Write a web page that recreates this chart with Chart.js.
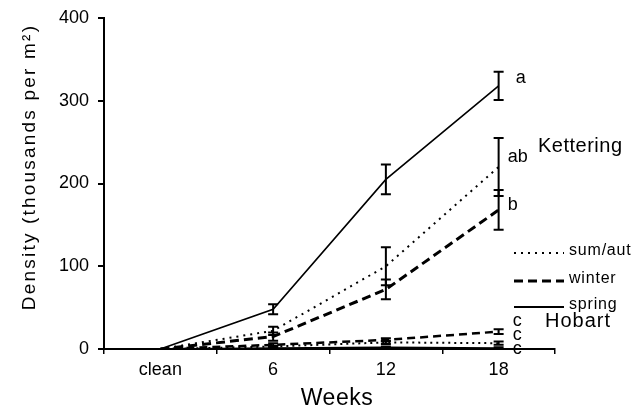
<!DOCTYPE html>
<html>
<head>
<meta charset="utf-8">
<script src="https://cdn.jsdelivr.net/npm/chart.js@4.4.1/dist/chart.umd.min.js"></script>
<style>
  html, body { margin: 0; padding: 0; background: #fff; }
  #wrap { width: 643px; height: 411px; position: relative; }
</style>
</head>
<body>
<div id="wrap"><canvas id="myChart"></canvas></div>
<script>
const weeks = ["clean", "6", "12", "18"];

// Kettering
const ketSumAut = [0, 22, 100, 220];
const ketSumAutErr = [0, 5, 23, 35];
const ketWinter = [0, 15, 72, 168];
const ketWinterErr = [0, 5, 12, 24];
const ketSpring = [0, 48, 205, 318];
const ketSpringErr = [0, 6, 18, 17];

// Hobart
const hobSumAut = [0, 3, 8, 7];
const hobSumAutErr = [0, 1, 2, 2];
const hobWinter = [0, 5, 11, 21];
const hobWinterErr = [0, 2, 2, 3];
const hobSpring = [0, 1, 2, 1];
const hobSpringErr = [0, 1, 1, 1];

const yTicks = [0, 100, 200, 300, 400];
const letters = ["a", "ab", "b", "c", "c", "c"];

const FONT = "'Liberation Sans', Arial, sans-serif";

function line(label, data, err, dash, width) {
  return {
    label: label,
    data: data,
    err: err,
    borderColor: "#000",
    borderWidth: width,
    borderDash: dash,
    pointRadius: 0,
    fill: false,
    tension: 0,
  };
}

const errorBars = {
  id: "errorBars",
  afterDatasetsDraw(chart) {
    const ctx = chart.ctx;
    const x = chart.scales.x;
    const y = chart.scales.y;
    ctx.save();
    ctx.strokeStyle = "#000";
    ctx.lineWidth = 2;
    ctx.setLineDash([]);
    chart.data.datasets.forEach((ds) => {
      ds.data.forEach((v, i) => {
        const e = ds.err[i];
        if (!e) return;
        const px = x.getPixelForValue(i);
        const top = y.getPixelForValue(v + e);
        const bot = y.getPixelForValue(v - e);
        ctx.beginPath();
        ctx.moveTo(px, top);
        ctx.lineTo(px, bot);
        ctx.moveTo(px - 5, top);
        ctx.lineTo(px + 5, top);
        ctx.moveTo(px - 5, bot);
        ctx.lineTo(px + 5, bot);
        ctx.stroke();
      });
    });
    ctx.restore();
  },
};

const labelsPlugin = {
  id: "labelsPlugin",
  afterDraw(chart) {
    const ctx = chart.ctx;
    const x = chart.scales.x;
    const y = chart.scales.y;
    const area = chart.chartArea;
    ctx.save();
    ctx.fillStyle = "#000";
    ctx.textBaseline = "middle";

    // y axis title
    ctx.save();
    ctx.translate(30, 167);
    ctx.rotate(-Math.PI / 2);
    ctx.font = "19px " + FONT;
    ctx.textAlign = "center";
    ctx.letterSpacing = "2.2px";
    ctx.fillText("Density (thousands per m\u00B2)", 0, 0);
    ctx.restore();

    // x axis title
    ctx.font = "23px " + FONT;
    ctx.textAlign = "center";
    ctx.letterSpacing = "0.5px";
    ctx.fillText("Weeks", 337, 399);
    ctx.letterSpacing = "0px";

    // significance letters at week 18
    const px = x.getPixelForValue(3);
    ctx.font = "18px " + FONT;
    ctx.textAlign = "left";
    ctx.fillText(letters[0], px + 17, y.getPixelForValue(ketSpring[3]) - 8);
    ctx.fillText(letters[1], px + 9, y.getPixelForValue(ketSumAut[3]) - 10);
    ctx.fillText(letters[2], px + 9, y.getPixelForValue(ketWinter[3]) - 5);
    const base = y.getPixelForValue(0);
    ctx.fillText(letters[3], px + 14, base - 28);
    ctx.fillText(letters[4], px + 14, base - 14);
    ctx.fillText(letters[5], px + 14, base);

    // site names
    ctx.font = "20px " + FONT;
    ctx.letterSpacing = "0.5px";
    ctx.fillText("Kettering", area.right - 17, 146);
    ctx.letterSpacing = "1px";
    ctx.fillText("Hobart", area.right - 10, 321);

    // legend
    const items = [
      ["sum/aut", [2, 5], 2, 253],
      ["winter", [9, 5], 3, 281],
      ["spring", [], 2, 307],
    ];
    items.forEach((it) => {
      ctx.beginPath();
      ctx.setLineDash(it[1]);
      ctx.lineWidth = it[2];
      ctx.strokeStyle = "#000";
      ctx.moveTo(area.right - 41, it[3]);
      ctx.lineTo(area.right + 9, it[3]);
      ctx.stroke();
      ctx.setLineDash([]);
      ctx.font = "16px " + FONT;
      ctx.letterSpacing = "0.8px";
      ctx.fillText(it[0], area.right + 14, it[3] - 2);
    });
    ctx.restore();
  },
};

const ctx = document.getElementById("myChart").getContext("2d");
const myChart = new Chart(ctx, {
  type: "line",
  data: {
    labels: weeks,
    datasets: [
      line("sum/aut", ketSumAut, ketSumAutErr, [2, 5], 2),
      line("winter", ketWinter, ketWinterErr, [9, 5], 3),
      line("spring", ketSpring, ketSpringErr, [], 1.6),
      line("Hobart sum/aut", hobSumAut, hobSumAutErr, [2, 4], 2),
      line("Hobart winter", hobWinter, hobWinterErr, [8, 5], 2.5),
      line("Hobart spring", hobSpring, hobSpringErr, [], 1.6),
    ],
  },
  plugins: [errorBars, labelsPlugin],
  options: {
    responsive: true,
    maintainAspectRatio: false,
    animation: false,
    layout: { padding: { top: 18, right: 88, left: 0, bottom: 0 } },
    scales: {
      x: {
        offset: true,
        grid: {
          offset: true,
          drawOnChartArea: false,
          drawTicks: true,
          tickLength: 5,
          color: "#000",
          lineWidth: 1.5,
        },
        border: { display: true, color: "#000", width: 2 },
        ticks: {
          color: "#000",
          padding: 5,
          font: { family: FONT, size: 18 },
          maxRotation: 0,
        },
        afterFit(scale) {
          scale.height = 62;
        },
      },
      y: {
        min: 0,
        max: 400,
        afterBuildTicks(scale) {
          scale.ticks = yTicks.map((v) => ({ value: v }));
        },
        grid: {
          drawOnChartArea: false,
          drawTicks: true,
          tickLength: 6,
          color: "#000",
          lineWidth: 2,
        },
        border: { display: true, color: "#000", width: 2 },
        ticks: {
          color: "#000",
          padding: 9,
          font: { family: FONT, size: 18 },
        },
        afterFit(scale) {
          scale.width = 104;
          scale.paddingTop = 0;
          scale.paddingBottom = 0;
        },
      },
    },
    plugins: {
      legend: { display: false },
      tooltip: { enabled: false },
    },
  },
});
</script>
</body>
</html>
